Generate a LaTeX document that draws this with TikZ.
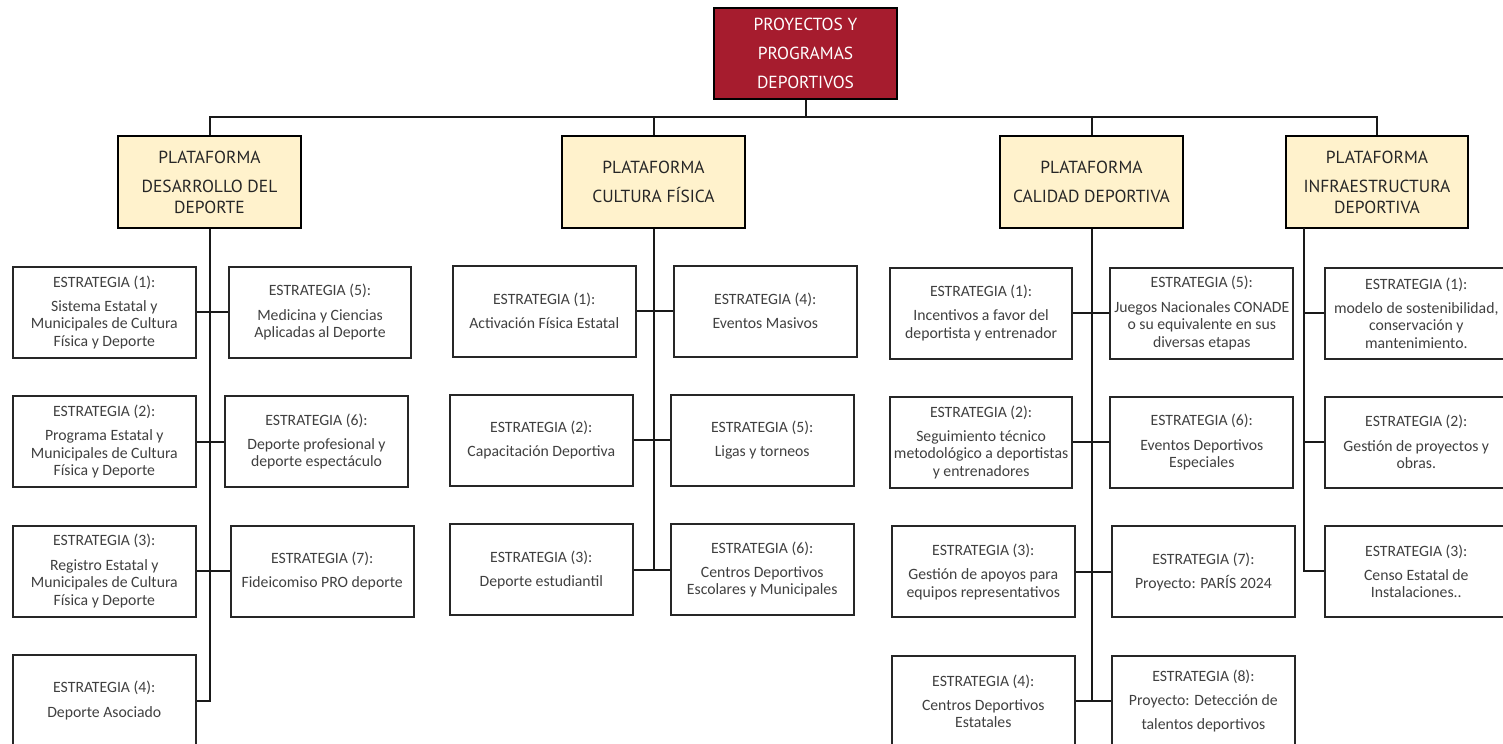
\documentclass[tikz,border=0pt]{standalone}
\usepackage{fontspec}
\setmainfont{Carlito}
\newfontfamily\platfont{PT Sans}
\definecolor{topred}{RGB}{166,28,46}
\definecolor{platfill}{RGB}{255,242,204}
\definecolor{esttext}{RGB}{64,64,64}
\definecolor{plattext}{RGB}{38,38,38}
\tikzset{
  est/.style={draw=black!85, line width=1.5pt, fill=white, minimum width=137pt, minimum height=68.25pt, inner sep=0pt, align=center, text=esttext, font=\fontsize{11.8}{13.1}\selectfont},
  plat/.style={draw=black, line width=1.5pt, fill=platfill, minimum width=137pt, minimum height=69pt, inner sep=0pt, align=center, text=plattext, font=\platfont\fontsize{13.1}{15.5}\selectfont},
  topbox/.style={draw=black, line width=1.5pt, fill=topred, minimum width=137pt, minimum height=68.25pt, inner sep=0pt, align=center, text=white, font=\platfont\fontsize{13.1}{21.75}\selectfont},
  conn/.style={line width=1.5pt, draw=black!90}
}
\begin{document}
\begin{tikzpicture}[x=0.75pt,y=-0.75pt]
\path[use as bounding box] (0,0) rectangle (1503,743);
\begin{scope}
\clip (0,0) rectangle (1503,743);
% top
\node[topbox] (top) at (805.5,53.5) {PROYECTOS Y\\PROGRAMAS\\DEPORTIVOS};
% platforms
\node[plat] (pd) at (209.5,182) {PLATAFORMA\\[6.4pt]DESARROLLO DEL\\DEPORTE};
\node[plat] (pc) at (653.5,182) {PLATAFORMA\\[6.4pt]CULTURA FÍSICA};
\node[plat] (pq) at (1091.5,182) {PLATAFORMA\\[6.4pt]CALIDAD DEPORTIVA};
\node[plat] (pi) at (1377,182) {PLATAFORMA\\[6.4pt]INFRAESTRUCTURA\\DEPORTIVA};
\coordinate (bus) at (805.5,117);
\coordinate (ispine) at (1304.3,228);
% desarrollo
\node[est] (d1) at (104.3,312.2) {ESTRATEGIA (1):\\[5pt]Sistema Estatal y\\Municipales de Cultura\\Física y Deporte};
\node[est] (d5) at (320,312.2) {ESTRATEGIA (5):\\[5pt]Medicina y Ciencias\\Aplicadas al Deporte};
\node[est] (d2) at (104.3,441.5) {ESTRATEGIA (2):\\[5pt]Programa Estatal y\\Municipales de Cultura\\Física y Deporte};
\node[est] (d6) at (316.5,441.5) {ESTRATEGIA (6):\\[5pt]Deporte profesional y\\deporte espectáculo};
\node[est] (d3) at (104.3,571) {ESTRATEGIA (3):\\[5pt]Registro Estatal y\\Municipales de Cultura\\Física y Deporte};
\node[est] (d7) at (322.2,571) {ESTRATEGIA (7):\\[5pt]Fideicomiso PRO deporte};
\node[est] (d4) at (104.3,700.5) {ESTRATEGIA (4):\\[5pt]Deporte Asociado};
% cultura
\node[est] (c1) at (544.2,311.2) {ESTRATEGIA (1):\\[5pt]Activación Física Estatal};
\node[est] (c4) at (765.3,311.2) {ESTRATEGIA (4):\\[5pt]Eventos Masivos};
\node[est] (c2) at (541.3,440.3) {ESTRATEGIA (2):\\[5pt]Capacitación Deportiva};
\node[est] (c5) at (762.2,440.3) {ESTRATEGIA (5):\\[5pt]Ligas y torneos};
\node[est] (c3) at (541.3,569.7) {ESTRATEGIA (3):\\[5pt]Deporte estudiantil};
\node[est] (c6) at (762.2,569.7) {ESTRATEGIA (6):\\[5pt]Centros Deportivos\\Escolares y Municipales};
% calidad
\node[est] (q1) at (981.1,313) {ESTRATEGIA (1):\\[5pt]Incentivos a favor del\\deportista y entrenador};
\node[est] (q5) at (1201.8,313) {ESTRATEGIA (5):\\[5pt]Juegos Nacionales CONADE\\o su equivalente en sus\\diversas etapas};
\node[est] (q2) at (981.1,442.3) {ESTRATEGIA (2):\\[5pt]Seguimiento técnico\\metodológico a deportistas\\y entrenadores};
\node[est] (q6) at (1201.8,442.3) {ESTRATEGIA (6):\\[5pt]Eventos Deportivos\\Especiales};
\node[est] (q3) at (983.3,571.8) {ESTRATEGIA (3):\\[5pt]Gestión de apoyos para\\equipos representativos};
\node[est] (q7) at (1203.4,571.8) {ESTRATEGIA (7):\\[5pt]Proyecto: PARÍS 2024};
\node[est] (q4) at (983.3,701.3) {ESTRATEGIA (4):\\[5pt]Centros Deportivos\\Estatales};
\node[est] (q8) at (1203.4,701.3) {ESTRATEGIA (8):\\[5pt]Proyecto: Detección de\\[5pt]talentos deportivos};
% infraestructura
\node[est] (i1) at (1416.3,313) {ESTRATEGIA (1):\\[5pt]modelo de sostenibilidad,\\conservación y\\mantenimiento.};
\node[est] (i2) at (1416.3,442) {ESTRATEGIA (2):\\[5pt]Gestión de proyectos y\\obras.};
\node[est] (i3) at (1416.3,571.3) {ESTRATEGIA (3):\\[5pt]Censo Estatal de\\Instalaciones..};
% connectors top
\draw[conn] (top.south) -- (bus);
\draw[conn] (pd.north) |- (bus);
\draw[conn] (pi.north) |- (bus);
\draw[conn] (pc.north) -- (pc.north |- bus);
\draw[conn] (pq.north) -- (pq.north |- bus);
% desarrollo spine
\draw[conn] (pd.south) |- (d4.east);
\draw[conn] (d1.east) -- (d5.west);
\draw[conn] (d2.east) -- (d6.west);
\draw[conn] (d3.east) -- (d7.west);
% cultura spine
\draw[conn] (pc.south) -- (pc.south |- c3.east);
\draw[conn] (c1.east) -- (c4.west);
\draw[conn] (c2.east) -- (c5.west);
\draw[conn] (c3.east) -- (c6.west);
% calidad spine
\draw[conn] (pq.south) -- (pq.south |- q4.east);
\draw[conn] (q1.east) -- (q5.west);
\draw[conn] (q2.east) -- (q6.west);
\draw[conn] (q3.east) -- (q7.west);
\draw[conn] (q4.east) -- (q8.west);
% infra spine
\draw[conn] (ispine) |- (i3.west);
\draw[conn] (ispine |- i1.west) -- (i1.west);
\draw[conn] (ispine |- i2.west) -- (i2.west);
\end{scope}
\end{tikzpicture}
\end{document}
